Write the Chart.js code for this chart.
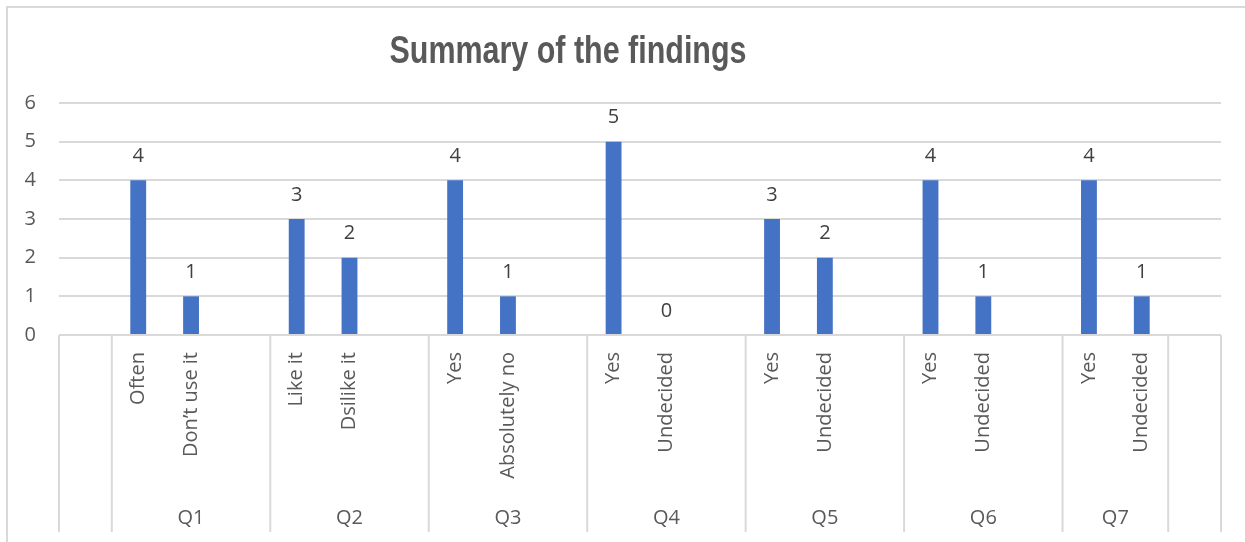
<!DOCTYPE html>
<html>
<head>
<meta charset="utf-8">
<script src="https://cdn.jsdelivr.net/npm/chart.js@4.4.1/dist/chart.umd.min.js"></script>
<style>
  html, body { margin: 0; padding: 0; background: #ffffff; }
  #wrap { position: relative; width: 1245px; height: 542px; }
</style>
</head>
<body>
<div id="wrap"><canvas id="c" width="1245" height="542"></canvas></div>
<script>
const chartTitle = 'Summary of the findings';
const categories = ['', 'Often', 'Don\u2019t use it', '', 'Like it', 'Dsilike it', '', 'Yes', 'Absolutely no', '', 'Yes', 'Undecided', '', 'Yes', 'Undecided', '', 'Yes', 'Undecided', '', 'Yes', 'Undecided', ''];
const values = [null, 4, 1, null, 3, 2, null, 4, 1, null, 5, 0, null, 3, 2, null, 4, 1, null, 4, 1, null];
const groupLabels = ['', 'Q1', 'Q2', 'Q3', 'Q4', 'Q5', 'Q6', 'Q7', ''];
const groupSizes = [1, 3, 3, 3, 3, 3, 3, 2, 1];
const yTicks = [0, 1, 2, 3, 4, 5, 6];

const GRID = '#d9d9d9';
const AXIS_TEXT = '#595959';
const LABEL_TEXT = '#404040';
const FONT = '"Open Sans", "Segoe UI", sans-serif';

const decorPlugin = {
  id: 'decor',
  beforeDraw(chart) {
    const ctx = chart.ctx;
    ctx.save();
    ctx.strokeStyle = GRID;
    ctx.lineWidth = 2;
    ctx.beginPath();
    ctx.moveTo(7, chart.height);
    ctx.lineTo(7, 7);
    ctx.lineTo(chart.width, 7);
    ctx.stroke();
    ctx.restore();
  },
  afterDraw(chart) {
    const ctx = chart.ctx;
    const x = chart.scales.x;
    const area = chart.chartArea;
    const half = (x.getPixelForValue(1) - x.getPixelForValue(0)) / 2;
    ctx.save();
    ctx.strokeStyle = GRID;
    ctx.lineWidth = 2;
    let idx = 0;
    const bottom = x.bottom;
    for (let g = 0; g < groupSizes.length; g++) {
      const start = x.getPixelForValue(idx) - half;
      const end = x.getPixelForValue(idx + groupSizes[g] - 1) + half;
      ctx.beginPath();
      ctx.moveTo(start, area.bottom);
      ctx.lineTo(start, bottom);
      ctx.stroke();
      if (g === groupSizes.length - 1) {
        ctx.beginPath();
        ctx.moveTo(end, area.bottom);
        ctx.lineTo(end, bottom);
        ctx.stroke();
      }
      if (groupLabels[g]) {
        ctx.fillStyle = AXIS_TEXT;
        ctx.font = '20px ' + FONT;
        ctx.textAlign = 'center';
        ctx.textBaseline = 'middle';
        ctx.fillText(groupLabels[g], (start + end) / 2, 518);
      }
      idx += groupSizes[g];
    }
    // title (condensed bold look)
    ctx.fillStyle = AXIS_TEXT;
    ctx.font = 'bold 39px "Liberation Sans", Arial, sans-serif';
    ctx.textAlign = 'center';
    ctx.textBaseline = 'alphabetic';
    const w = ctx.measureText(chartTitle).width;
    const sx = 357 / w;
    ctx.translate(568, 63);
    ctx.scale(sx, 1);
    ctx.fillText(chartTitle, 0, 0);
    ctx.restore();
  },
  afterDatasetsDraw(chart) {
    const ctx = chart.ctx;
    const meta = chart.getDatasetMeta(0);
    ctx.save();
    ctx.fillStyle = LABEL_TEXT;
    ctx.font = '20px ' + FONT;
    ctx.textAlign = 'center';
    ctx.textBaseline = 'middle';
    meta.data.forEach((bar, i) => {
      const v = values[i];
      if (v === null || v === undefined) return;
      ctx.fillText(String(v), bar.x, bar.y - 24);
    });
    ctx.restore();
  }
};

new Chart(document.getElementById('c'), {
  type: 'bar',
  data: {
    labels: categories,
    datasets: [{
      data: values,
      backgroundColor: '#4472c4',
      borderWidth: 0,
      barPercentage: 0.3,
      categoryPercentage: 1.0
    }]
  },
  options: {
    responsive: false,
    animation: false,
    devicePixelRatio: 1,
    layout: { padding: { left: 7, right: 24, top: 103, bottom: 10 } },
    plugins: {
      legend: { display: false },
      title: { display: false },
      tooltip: { enabled: false }
    },
    scales: {
      x: {
        offset: true,
        grid: { display: false, drawTicks: false },
        border: { display: false },
        ticks: {
          autoSkip: false,
          minRotation: 90,
          maxRotation: 90,
          padding: 17,
          color: AXIS_TEXT,
          font: { family: FONT, size: 20 }
        },
        afterFit(scale) { scale.height = 197; }
      },
      y: {
        min: 0,
        max: 6,
        afterBuildTicks(scale) { scale.ticks = yTicks.map(v => ({ value: v })); },
        grid: { color: GRID, lineWidth: 2, drawTicks: false },
        border: { display: false },
        ticks: {
          padding: 23,
          color: AXIS_TEXT,
          font: { family: FONT, size: 20 }
        },
        afterFit(scale) { scale.width = 52; }
      }
    }
  },
  plugins: [decorPlugin]
});
</script>
</body>
</html>
